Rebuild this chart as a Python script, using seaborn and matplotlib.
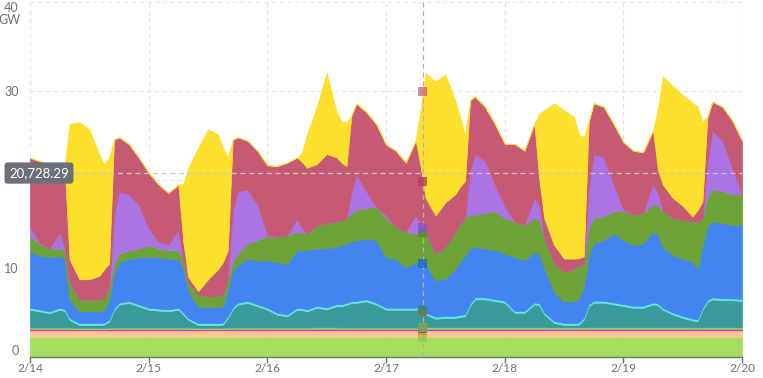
import numpy as np
import pandas as pd
import matplotlib
matplotlib.use("Agg")
import matplotlib.pyplot as plt
import matplotlib.transforms as mtransforms
import seaborn as sns

# hours since 2/14 00:00 (denser around sunrise / sunset)
hours = [
    0, 2, 4, 6, 7, 8, 10, 12, 14, 15, 16, 17, 18, 20, 22,
    24, 26, 28, 30, 31, 32, 34, 36, 38, 39, 40, 41, 42, 44, 46,
    48, 50, 52, 54, 55, 56, 58, 60, 62, 63, 64, 65, 66, 68, 70,
    72, 74, 76, 78, 79, 80, 82, 84, 86, 87, 88, 89, 90, 92, 94,
    96, 98, 100, 102, 103, 104, 106, 108, 110, 111, 112, 113, 114, 116, 118,
    120, 122, 124, 126, 127, 128, 130, 132, 134, 135, 136, 137, 138, 140, 142,
    144,
]

# generation by source, GW (bottom layer first)
nuclear = [
    2.25, 2.25, 2.25, 2.25, 2.25, 2.25, 2.25, 2.25, 2.25, 2.25, 2.25, 2.25, 2.25, 2.25, 2.25,
    2.25, 2.25, 2.25, 2.25, 2.25, 2.25, 2.25, 2.25, 2.25, 2.25, 2.25, 2.25, 2.25, 2.25, 2.25,
    2.25, 2.25, 2.25, 2.25, 2.25, 2.25, 2.25, 2.25, 2.25, 2.25, 2.25, 2.25, 2.25, 2.25, 2.25,
    2.25, 2.25, 2.25, 2.25, 2.25, 2.25, 2.25, 2.25, 2.25, 2.25, 2.25, 2.25, 2.25, 2.25, 2.25,
    2.25, 2.25, 2.25, 2.25, 2.25, 2.25, 2.25, 2.25, 2.25, 2.25, 2.25, 2.25, 2.25, 2.25, 2.25,
    2.25, 2.25, 2.25, 2.25, 2.25, 2.25, 2.25, 2.25, 2.25, 2.25, 2.25, 2.25, 2.25, 2.25, 2.25,
    2.25,
]
biomass = [
    0.75, 0.75, 0.75, 0.75, 0.75, 0.75, 0.75, 0.75, 0.75, 0.75, 0.75, 0.75, 0.75, 0.75, 0.75,
    0.75, 0.75, 0.75, 0.75, 0.75, 0.75, 0.75, 0.75, 0.75, 0.75, 0.75, 0.75, 0.75, 0.75, 0.75,
    0.75, 0.75, 0.75, 0.75, 0.75, 0.75, 0.75, 0.75, 0.75, 0.75, 0.75, 0.75, 0.75, 0.75, 0.75,
    0.75, 0.75, 0.75, 0.75, 0.75, 0.75, 0.75, 0.75, 0.75, 0.75, 0.75, 0.75, 0.75, 0.75, 0.75,
    0.75, 0.75, 0.75, 0.75, 0.75, 0.75, 0.75, 0.75, 0.75, 0.75, 0.75, 0.75, 0.75, 0.75, 0.75,
    0.75, 0.75, 0.75, 0.75, 0.75, 0.75, 0.75, 0.75, 0.75, 0.75, 0.75, 0.75, 0.75, 0.75, 0.75,
    0.75,
]
geothermal = [
    0.15, 0.15, 0.15, 0.15, 0.15, 0.15, 0.12, 0.12, 0.12, 0.12, 0.15, 0.15, 0.15, 0.15, 0.15,
    0.15, 0.15, 0.15, 0.15, 0.15, 0.15, 0.12, 0.12, 0.12, 0.12, 0.15, 0.15, 0.15, 0.15, 0.15,
    0.15, 0.15, 0.15, 0.15, 0.15, 0.15, 0.18, 0.18, 0.18, 0.15, 0.15, 0.15, 0.15, 0.15, 0.15,
    0.15, 0.15, 0.15, 0.15, 0.15, 0.18, 0.18, 0.18, 0.18, 0.18, 0.18, 0.18, 0.18, 0.18, 0.18,
    0.18, 0.18, 0.18, 0.18, 0.18, 0.18, 0.18, 0.18, 0.18, 0.18, 0.18, 0.18, 0.18, 0.18, 0.18,
    0.18, 0.18, 0.18, 0.18, 0.18, 0.18, 0.18, 0.18, 0.18, 0.18, 0.18, 0.18, 0.18, 0.18, 0.18,
    0.18,
]
other = [
    0.18, 0.18, 0.18, 0.18, 0.18, 0.18, 0.18, 0.18, 0.18, 0.18, 0.18, 0.18, 0.18, 0.18, 0.18,
    0.18, 0.18, 0.18, 0.18, 0.18, 0.18, 0.18, 0.18, 0.18, 0.18, 0.18, 0.18, 0.18, 0.18, 0.18,
    0.18, 0.18, 0.18, 0.18, 0.18, 0.18, 0.18, 0.18, 0.18, 0.18, 0.18, 0.18, 0.18, 0.18, 0.18,
    0.18, 0.18, 0.18, 0.18, 0.18, 0.18, 0.18, 0.18, 0.18, 0.18, 0.18, 0.18, 0.18, 0.18, 0.18,
    0.18, 0.18, 0.18, 0.18, 0.18, 0.18, 0.18, 0.18, 0.18, 0.18, 0.18, 0.18, 0.18, 0.18, 0.18,
    0.18, 0.18, 0.18, 0.18, 0.18, 0.18, 0.18, 0.18, 0.18, 0.18, 0.18, 0.18, 0.18, 0.18, 0.18,
    0.18,
]
hydro = [
    2.0, 1.8, 1.6, 2.0, 1.85, 0.85, 0.3, 0.3, 0.3, 0.35, 0.65, 1.95, 2.57, 2.76, 2.38,
    2.0, 1.9, 1.81, 2.0, 1.45, 0.85, 0.29, 0.29, 0.29, 0.35, 1.05, 2.05, 2.57, 2.76, 2.38,
    2.0, 1.43, 1.24, 2.0, 1.95, 1.81, 2.19, 2.0, 2.38, 2.38, 2.55, 2.75, 2.76, 2.95, 2.57,
    2.0, 2.0, 2.0, 2.0, 2.05, 1.43, 0.95, 1.05, 1.05, 1.15, 1.25, 2.45, 3.14, 3.14, 2.95,
    2.76, 1.62, 1.62, 2.57, 2.45, 1.45, 0.48, 0.25, 0.25, 0.3, 0.85, 2.35, 2.76, 2.76, 2.57,
    2.38, 2.19, 2.19, 2.57, 2.45, 1.95, 1.43, 1.05, 0.75, 0.65, 1.95, 2.85, 3.14, 3.03, 3.03,
    2.95,
]
storage = [
    0.22, 0.22, 0.22, 0.22, 0.22, 0.22, 0.22, 0.22, 0.22, 0.22, 0.22, 0.22, 0.22, 0.22, 0.22,
    0.22, 0.22, 0.22, 0.22, 0.22, 0.22, 0.22, 0.22, 0.22, 0.22, 0.22, 0.22, 0.22, 0.22, 0.22,
    0.22, 0.22, 0.22, 0.22, 0.22, 0.22, 0.22, 0.22, 0.22, 0.22, 0.22, 0.22, 0.22, 0.22, 0.22,
    0.22, 0.22, 0.22, 0.22, 0.22, 0.22, 0.22, 0.22, 0.22, 0.22, 0.22, 0.22, 0.22, 0.22, 0.22,
    0.22, 0.22, 0.22, 0.22, 0.22, 0.22, 0.22, 0.22, 0.22, 0.22, 0.22, 0.22, 0.22, 0.22, 0.22,
    0.22, 0.22, 0.22, 0.22, 0.22, 0.22, 0.22, 0.22, 0.22, 0.22, 0.22, 0.22, 0.22, 0.22, 0.22,
    0.22,
]
wind = [
    6.3, 6.1, 6.1, 5.9, 5.6, 2.1, 1.33, 1.33, 1.33, 1.4, 2.3, 4.0, 4.56, 4.75, 5.32,
    5.7, 5.8, 5.7, 5.51, 5.0, 3.1, 1.83, 1.83, 1.83, 1.9, 3.0, 4.2, 4.18, 4.75, 4.94,
    5.35, 5.7, 5.7, 6.47, 6.5, 6.66, 6.47, 6.66, 6.47, 6.67, 6.7, 6.7, 6.85, 6.85, 7.04,
    5.7, 5.51, 4.56, 5.13, 4.9, 5.52, 4.1, 4.2, 5.3, 6.0, 6.6, 6.2, 5.71, 5.52, 5.52,
    5.32, 6.08, 5.7, 5.71, 5.5, 5.0, 3.23, 2.4, 2.5, 2.65, 3.6, 5.6, 6.47, 6.85, 7.8,
    7.23, 6.85, 7.04, 7.99, 7.8, 6.9, 6.46, 6.46, 6.38, 5.72, 7.0, 8.3, 8.56, 8.48, 8.29,
    8.37,
]
coal = [
    1.7, 1.3, 1.0, 0.8, 1.0, 2.0, 1.33, 1.33, 1.33, 1.39, 1.3, 1.0, 0.95, 0.96, 0.96,
    1.34, 0.96, 0.96, 0.96, 1.0, 0.9, 1.4, 1.21, 1.21, 1.3, 1.2, 1.0, 1.33, 1.72, 2.29,
    2.7, 2.86, 3.24, 2.09, 2.0, 1.9, 2.66, 2.85, 2.85, 2.8, 2.8, 3.2, 3.44, 3.42, 3.8,
    4.4, 3.62, 4.0, 3.24, 3.5, 3.6, 3.03, 3.6, 4.2, 4.3, 4.2, 3.8, 3.61, 3.99, 4.37,
    4.0, 4.0, 4.0, 3.8, 3.9, 3.5, 3.24, 3.34, 3.62, 3.8, 2.5, 3.0, 2.85, 2.66, 2.47,
    3.23, 3.42, 3.42, 3.04, 3.2, 4.0, 4.19, 4.38, 4.57, 5.28, 3.1, 3.3, 3.61, 3.61, 3.43,
    3.43,
]
imports = [
    1.1, 0.1, 0.0, 1.8, 0.3, 0.0, 0.0, 0.0, 0.0, 0.0, 0.0, 5.5, 7.04, 6.27, 4.94,
    1.9, 0.79, 0.68, 2.28, 0.0, 0.0, 0.0, 0.0, 0.0, 0.0, 0.0, 5.7, 7.04, 6.08, 3.99,
    0.2, 0.0, 0.0, 1.49, 0.5, 0.0, 0.0, 0.0, 0.0, 0.0, 0.0, 2.3, 3.97, 1.9, 0.0,
    0.3, 0.0, 0.0, 2.08, 1.0, 0.0, 0.0, 0.0, 0.0, 0.0, 0.0, 5.0, 6.84, 5.89, 3.04,
    1.37, 0.0, 0.0, 2.27, 1.6, 0.0, 0.0, 0.0, 0.0, 0.0, 0.0, 4.5, 7.22, 6.65, 3.04,
    0.21, 0.0, 0.0, 2.35, 1.5, 0.0, 0.0, 0.0, 0.0, 0.0, 0.0, 4.0, 6.65, 5.7, 3.03,
    0.0,
]
gas = [
    7.8, 9.2, 9.5, 7.5, 9.2, 2.5, 2.28, 2.28, 2.66, 3.23, 2.7, 8.5, 6.08, 5.7, 5.32,
    6.27, 6.43, 5.78, 5.13, 2.0, 0.6, 0.38, 1.9, 3.04, 3.6, 3.2, 8.0, 6.08, 5.51, 6.08,
    7.8, 7.98, 8.17, 6.87, 7.5, 7.41, 6.84, 7.79, 7.22, 6.5, 5.9, 8.7, 7.99, 8.93, 9.31,
    8.0, 8.55, 7.79, 8.4, 6.5, 3.8, 4.27, 5.0, 4.2, 4.2, 4.2, 7.9, 6.47, 6.08, 6.84,
    7.0, 8.74, 8.36, 8.37, 3.0, 2.1, 2.09, 1.52, 1.14, 0.8, 0.8, 7.5, 5.71, 5.7, 6.84,
    7.58, 7.22, 6.84, 6.01, 2.5, 3.0, 2.27, 1.56, 0.55, 1.3, 1.9, 5.0, 3.24, 3.8, 5.32,
    6.07,
]
solar = [
    0, 0, 0, 0, 0, 15.3, 17.7, 16.9, 13.7, 11.8, 12.0, 0, 0, 0, 0,
    0, 0, 0, 0, 6.5, 12.3, 16.15, 16.9, 15.2, 12.9, 10.5, 0, 0, 0, 0,
    0, 0, 0, 0, 1.0, 3.77, 6.46, 9.13, 5.13, 4.6, 4.96, 0, 0, 0, 0,
    0, 0, 0, 0, 6.5, 14.08, 15.1, 14.4, 10.6, 7.8, 5.2, 0, 0, 0, 0,
    0, 0, 0, 0, 7.4, 12.2, 15.97, 16.73, 15.97, 14.0, 13.45, 0, 0, 0, 0,
    0, 0, 0, 0, 7.0, 12.2, 12.6, 12.5, 12.8, 11.7, 9.0, 0, 0, 0, 0,
    0,
]

day_ticks = [0, 24, 48, 72, 96, 120, 144]
day_labels = ["2/14", "2/15", "2/16", "2/17", "2/18", "2/19", "2/20"]
# the "20" label sits under the tooltip label in the original, only its gridline shows
y_ticks = [0, 10, 30, 40]
y_labels = ["0", "10", "30", "40"]
hidden_grid = [20]

# tooltip cursor
cursor_hour = 79.47
cursor_value = 20.72829

sources = ["Nuclear", "Biomass", "Geothermal", "Other", "Hydro", "Storage",
           "Wind", "Coal", "Imports", "Gas", "Solar"]
layers = [nuclear, biomass, geothermal, other, hydro, storage,
          wind, coal, imports, gas, solar]
colors = ["#a3df5d", "#fdc592", "#c23bbf", "#8fd06a", "#3a9a9a", "#63e3e0",
          "#4285f0", "#6ca236", "#ab72e4", "#c65a74", "#fddf2e"]
marker_colors = ["#8fc94c", "#e08a2a", "#a02a9c", "#78b84f", "#c0580c", "#2d8a8a",
                 "#1a66d6", "#4f8a22", "#8a4fcc", "#b03a5a", "#d0607a"]

sns.set_theme(style="white")
plt.rcParams['font.family'] = ['Lato', 'DejaVu Sans']

fig = plt.figure(figsize=(7.63, 3.78), dpi=100)
ax = fig.add_axes([30 / 763, 21 / 378, 712 / 763, 355 / 378])

polys = ax.stackplot(hours, *layers, colors=colors, zorder=2)
for p, c in zip(polys, colors):
    p.set_edgecolor(c)
    p.set_linewidth(0.5)

# grid, axes
grid_style = dict(linestyle=(0, (4, 3)), color="#e3e3e3", linewidth=0.8)
ax.set_xlim(0, 144)
ax.set_ylim(0, 40)
ax.set_yticks(y_ticks)
ax.set_yticklabels(y_labels)
ax.set_xticks(day_ticks)
ax.set_xticklabels(day_labels)
ax.grid(True, **grid_style)
for g in hidden_grid:
    ax.axhline(g, zorder=0.5, **grid_style)
ax.set_axisbelow(True)
for side in ["top", "right", "left"]:
    ax.spines[side].set_visible(False)
ax.spines["bottom"].set_color("#6e7079")
ax.spines["bottom"].set_linewidth(1.0)
ax.tick_params(axis="x", length=4, width=1, color="#6e7079", pad=0.5,
               labelsize=8.6, labelcolor="#6e7079", bottom=True)
ax.tick_params(axis="y", length=0, pad=8, labelsize=9, labelcolor="#6e7079")
ylabs = ax.get_yticklabels()
ylabs[0].set_verticalalignment("bottom")
ylabs[-1].set_verticalalignment("top")
fig.text(21 / 763, 1 - 20 / 378, "GW", ha="right", va="center",
         fontsize=9, color="#6e7079")

# cursor crosshair
ax.axvline(cursor_hour, color="#b0b0b0", linestyle=(0, (4, 3)), linewidth=0.9, zorder=4)
ax.axhline(cursor_value, color="#c8c8c8", linestyle=(0, (4, 3)), linewidth=0.9, zorder=4)

stack = np.cumsum(np.array(layers, dtype=float), axis=0)
tops = [np.interp(cursor_hour, hours, row) for row in stack]
df_mark = pd.DataFrame({"hour": cursor_hour, "top": tops, "source": sources})
sns.scatterplot(data=df_mark, x="hour", y="top", hue="source",
                palette=dict(zip(sources, marker_colors)), marker="s", s=42,
                alpha=0.75, edgecolor="none", legend=False, ax=ax, zorder=5)

trans = mtransforms.blended_transform_factory(ax.transAxes, ax.transData)
ax.text(9 / 712, cursor_value, f"{cursor_value * 1000:,.2f}", transform=trans,
        ha="center", va="center", color="white", fontsize=9.5, zorder=6, clip_on=False,
        bbox=dict(boxstyle="round,pad=0.35,rounding_size=0.25", fc="#6e7079", ec="none"))

fig.savefig("out.png", dpi=100)
